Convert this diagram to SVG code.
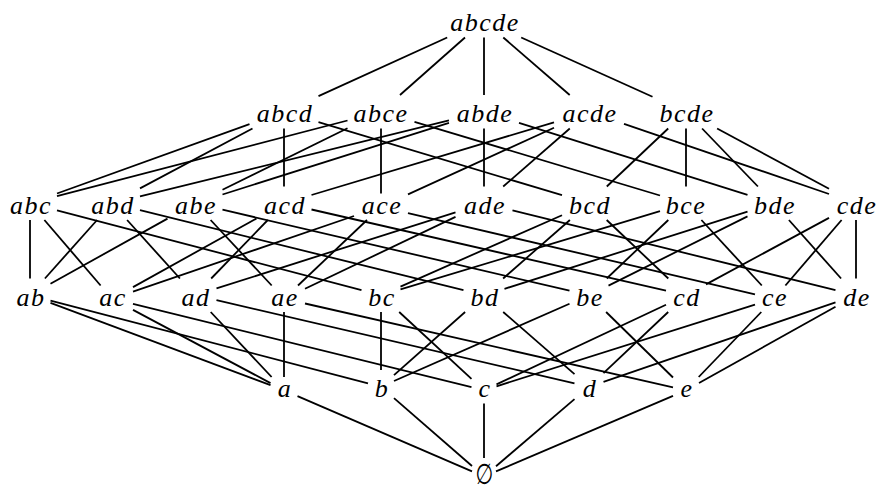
<svg xmlns="http://www.w3.org/2000/svg" width="879" height="491" viewBox="0 0 879 491">
<style>
.n text{font-family:"Liberation Serif","Times New Roman","DejaVu Serif",serif;font-style:italic;font-size:26px;letter-spacing:1.5px;text-anchor:middle;fill:#000}
#edges line{stroke:#000;stroke-width:1.8;stroke-linecap:butt}
</style>
<rect width="879" height="491" fill="#fff"/>
<g id="edges">
<line x1="447.2" y1="37.5" x2="318.5" y2="96.1"/>
<line x1="465" y1="37.5" x2="400" y2="95"/>
<line x1="484" y1="37.5" x2="484" y2="95"/>
<line x1="503.3" y1="37.5" x2="569.7" y2="95"/>
<line x1="521.2" y1="37.5" x2="652.5" y2="96.7"/>
<line x1="249.5" y1="124.2" x2="57" y2="193.5"/>
<line x1="252.5" y1="128.5" x2="140" y2="188.4"/>
<line x1="284" y1="128.5" x2="284" y2="186.5"/>
<line x1="318.5" y1="122.1" x2="562" y2="195.2"/>
<line x1="347.5" y1="120.5" x2="57" y2="196.2"/>
<line x1="347.5" y1="128.2" x2="222.5" y2="189.7"/>
<line x1="381" y1="128.5" x2="381" y2="193.5"/>
<line x1="414.5" y1="121.8" x2="660" y2="195.5"/>
<line x1="449" y1="120.4" x2="140" y2="196.4"/>
<line x1="449" y1="122.8" x2="222.5" y2="194.5"/>
<line x1="484" y1="128.5" x2="484" y2="186.5"/>
<line x1="519" y1="122.8" x2="747.5" y2="194.9"/>
<line x1="554" y1="122.3" x2="311.5" y2="195"/>
<line x1="554" y1="127.7" x2="408" y2="194.4"/>
<line x1="569.8" y1="128.5" x2="503.2" y2="186.5"/>
<line x1="624" y1="123.8" x2="829" y2="194"/>
<line x1="668.2" y1="128.5" x2="606.8" y2="186.5"/>
<line x1="686" y1="128.5" x2="686" y2="186.5"/>
<line x1="702.1" y1="128.5" x2="757.9" y2="186.5"/>
<line x1="717.1" y1="128.5" x2="829" y2="188.7"/>
<line x1="30" y1="220" x2="30" y2="278.5"/>
<line x1="44.4" y1="220" x2="100.6" y2="285.5"/>
<line x1="57" y1="210.3" x2="361.5" y2="290.1"/>
<line x1="97.1" y1="220" x2="44.9" y2="278.5"/>
<line x1="127.1" y1="220" x2="179.9" y2="278.5"/>
<line x1="140" y1="210.2" x2="463.5" y2="290.2"/>
<line x1="167.5" y1="218.6" x2="50.5" y2="283.8"/>
<line x1="210.6" y1="220" x2="271.7" y2="285.5"/>
<line x1="222.5" y1="209.7" x2="569.5" y2="290.7"/>
<line x1="256.5" y1="218.5" x2="133" y2="287.1"/>
<line x1="267.8" y1="220" x2="211.2" y2="278.5"/>
<line x1="311.5" y1="209.5" x2="666" y2="290.7"/>
<line x1="354" y1="216" x2="133" y2="291.6"/>
<line x1="367" y1="220" x2="298" y2="285.5"/>
<line x1="408" y1="213.1" x2="755" y2="294.3"/>
<line x1="455.5" y1="212.3" x2="216.5" y2="288.4"/>
<line x1="455.5" y1="216.9" x2="305" y2="288.7"/>
<line x1="512.5" y1="210.3" x2="835.5" y2="290.2"/>
<line x1="562" y1="215.2" x2="400.5" y2="286.6"/>
<line x1="569.9" y1="220" x2="503.1" y2="278.5"/>
<line x1="606.7" y1="220" x2="668.3" y2="278.5"/>
<line x1="660" y1="211.1" x2="400.5" y2="289.4"/>
<line x1="668.3" y1="220" x2="606.7" y2="278.5"/>
<line x1="701.4" y1="220" x2="761.8" y2="285.5"/>
<line x1="747.5" y1="211.7" x2="504.5" y2="288.8"/>
<line x1="747.5" y1="216.4" x2="608.5" y2="285.6"/>
<line x1="788.9" y1="220" x2="841.1" y2="278.5"/>
<line x1="829" y1="217.9" x2="706" y2="284.4"/>
<line x1="841.6" y1="220" x2="785.4" y2="285.5"/>
<line x1="856" y1="220" x2="856" y2="278.5"/>
<line x1="50.5" y1="302.9" x2="270.5" y2="385.2"/>
<line x1="50.5" y1="300.6" x2="368" y2="383.4"/>
<line x1="133" y1="309.9" x2="270.5" y2="383.1"/>
<line x1="133" y1="303.9" x2="471.5" y2="387.2"/>
<line x1="210.7" y1="312" x2="271.6" y2="377"/>
<line x1="216.5" y1="300.2" x2="574.5" y2="383.4"/>
<line x1="284" y1="312" x2="284" y2="377"/>
<line x1="305" y1="303.5" x2="673" y2="387.3"/>
<line x1="381" y1="312" x2="381" y2="370"/>
<line x1="399.2" y1="312" x2="471.5" y2="378.8"/>
<line x1="465.1" y1="312" x2="394" y2="375.2"/>
<line x1="503.2" y1="312" x2="574.5" y2="374.1"/>
<line x1="569.5" y1="303.8" x2="394" y2="381"/>
<line x1="606.1" y1="312" x2="673" y2="377.5"/>
<line x1="666" y1="304.7" x2="496.5" y2="384.4"/>
<line x1="668.2" y1="312" x2="603.5" y2="373.1"/>
<line x1="755" y1="304.7" x2="496.5" y2="386.3"/>
<line x1="761.3" y1="312" x2="698.7" y2="377"/>
<line x1="835.5" y1="302.3" x2="603.5" y2="381.8"/>
<line x1="835.5" y1="306.7" x2="699" y2="383"/>
<line x1="297.5" y1="396.1" x2="472" y2="471.3"/>
<line x1="394" y1="398.1" x2="472" y2="466"/>
<line x1="484" y1="403.5" x2="484" y2="458"/>
<line x1="574.5" y1="399.1" x2="496" y2="466.2"/>
<line x1="673" y1="395.8" x2="496" y2="471.4"/>
</g>
<g id="abcde" class="n"><text x="485" y="31">abcde</text></g>
<g id="abcd" class="n"><text x="285" y="122">abcd</text></g>
<g id="abce" class="n"><text x="381" y="122">abce</text></g>
<g id="abde" class="n"><text x="485" y="122">abde</text></g>
<g id="acde" class="n"><text x="590" y="122">acde</text></g>
<g id="bcde" class="n"><text x="687" y="122">bcde</text></g>
<g id="abc" class="n"><text x="31" y="213.5">abc</text></g>
<g id="abd" class="n"><text x="113" y="213.5">abd</text></g>
<g id="abe" class="n"><text x="196" y="213.5">abe</text></g>
<g id="acd" class="n"><text x="285" y="213.5">acd</text></g>
<g id="ace" class="n"><text x="382" y="213.5">ace</text></g>
<g id="ade" class="n"><text x="485" y="213.5">ade</text></g>
<g id="bcd" class="n"><text x="590" y="213.5">bcd</text></g>
<g id="bce" class="n"><text x="686" y="213.5">bce</text></g>
<g id="bde" class="n"><text x="775" y="213.5">bde</text></g>
<g id="cde" class="n"><text x="857" y="213.5">cde</text></g>
<g id="ab" class="n"><text x="31" y="305.5">ab</text></g>
<g id="ac" class="n"><text x="113" y="305.5">ac</text></g>
<g id="ad" class="n"><text x="196" y="305.5">ad</text></g>
<g id="ae" class="n"><text x="285" y="305.5">ae</text></g>
<g id="bc" class="n"><text x="382" y="305.5">bc</text></g>
<g id="bd" class="n"><text x="485" y="305.5">bd</text></g>
<g id="be" class="n"><text x="590" y="305.5">be</text></g>
<g id="cd" class="n"><text x="687" y="305.5">cd</text></g>
<g id="ce" class="n"><text x="775" y="305.5">ce</text></g>
<g id="de" class="n"><text x="857" y="305.5">de</text></g>
<g id="a" class="n"><text x="285" y="397">a</text></g>
<g id="b" class="n"><text x="382" y="397">b</text></g>
<g id="c" class="n"><text x="485" y="397">c</text></g>
<g id="d" class="n"><text x="590" y="397">d</text></g>
<g id="e" class="n"><text x="687" y="397">e</text></g>
<g id="empty" class="n"><text transform="translate(484.5,484) scale(0.85,1.2)" x="0" y="0" style="font-family:'DejaVu Sans',sans-serif;font-style:normal;font-size:24px;letter-spacing:0">∅</text></g>
</svg>
